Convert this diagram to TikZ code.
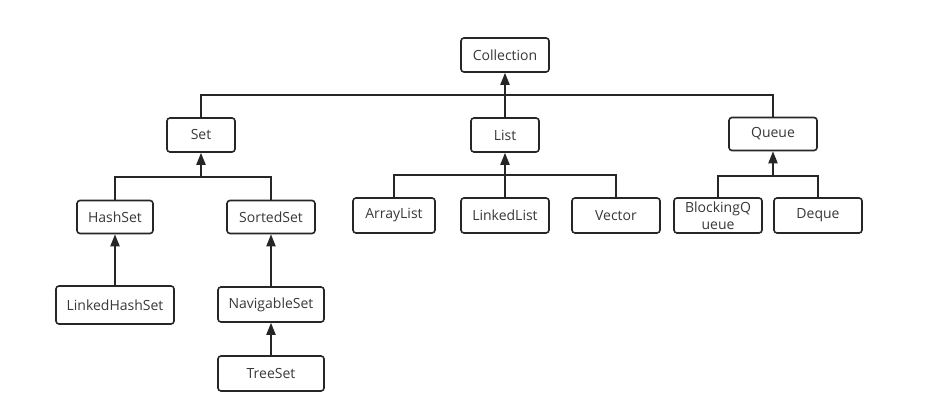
\documentclass[tikz,border=0pt]{standalone}
\usepackage{fontspec}
\setmainfont{Open Sans}
\usetikzlibrary{arrows.meta}
\begin{document}
\begin{tikzpicture}[x=1pt,y=-1pt,
  box/.style={draw=black!85,line width=1.6pt,rounded corners=3pt,fill=white,inner sep=0pt,
    font=\fontsize{14}{16}\selectfont,text=black!78},
  link/.style={draw=black!85,line width=2pt},
  arr/.style={link,-{Triangle[length=12pt,width=9pt]}}]
\useasboundingbox (0,0) rectangle (935,403);
\fill[white] (0,0) rectangle (935,403);
\node[box,minimum width=88pt,minimum height=34pt] (coll) at (505,55) {Collection};
\node[box,minimum width=68pt,minimum height=34pt] (set) at (201,135) {Set};
\node[box,minimum width=68pt,minimum height=34pt] (list) at (505,135) {List};
\node[box,minimum width=88pt,minimum height=33pt] (queue) at (773,134) {Queue};
\node[box,minimum width=76pt,minimum height=33pt] (hashset) at (115,217) {HashSet};
\node[box,minimum width=88pt,minimum height=33pt] (sortedset) at (271,217) {SortedSet};
\node[box,minimum width=118pt,minimum height=38pt] (lhs) at (115,305) {LinkedHashSet};
\node[box,minimum width=106pt,minimum height=35pt] (nav) at (271,304.5) {NavigableSet};
\node[box,minimum width=106pt,minimum height=35pt] (tree) at (271,373.5) {TreeSet};
\node[box,minimum width=82pt,minimum height=35pt] (alist) at (394,215.5) {ArrayList};
\node[box,minimum width=88pt,minimum height=35pt] (llist) at (505,215.5) {LinkedList};
\node[box,minimum width=88pt,minimum height=35pt] (vec) at (616,215.5) {Vector};
\node[box,minimum width=88pt,minimum height=35pt,align=center,font=\fontsize{14}{17}\selectfont] (bq) at (718,215.5) {BlockingQ\\ueue};
\node[box,minimum width=88pt,minimum height=35pt] (deque) at (818,215.5) {Deque};
% top level
\coordinate (jtop) at (505,95);
\draw[link] (set.north) -- (set.north |- jtop) -- (queue.north |- jtop) -- (queue.north);
\draw[arr] (list.north) -- (coll.south);
% set children
\coordinate (jset) at (201,177);
\draw[link] (hashset.north) -- (hashset.north |- jset) -- (sortedset.north |- jset) -- (sortedset.north);
\draw[arr] (jset) -- (set.south);
% list children
\coordinate (jlist) at (505,175);
\draw[link] (alist.north) -- (alist.north |- jlist) -- (vec.north |- jlist) -- (vec.north);
\draw[arr] (llist.north) -- (list.south);
% queue children
\coordinate (jq) at (773,176);
\draw[link] (bq.north) -- (bq.north |- jq) -- (deque.north |- jq) -- (deque.north);
\draw[arr] (jq) -- (queue.south);
% chains
\draw[arr] (lhs.north) -- (hashset.south);
\draw[arr] (nav.north) -- (sortedset.south);
\draw[arr] (tree.north) -- (nav.south);
\end{tikzpicture}
\end{document}
